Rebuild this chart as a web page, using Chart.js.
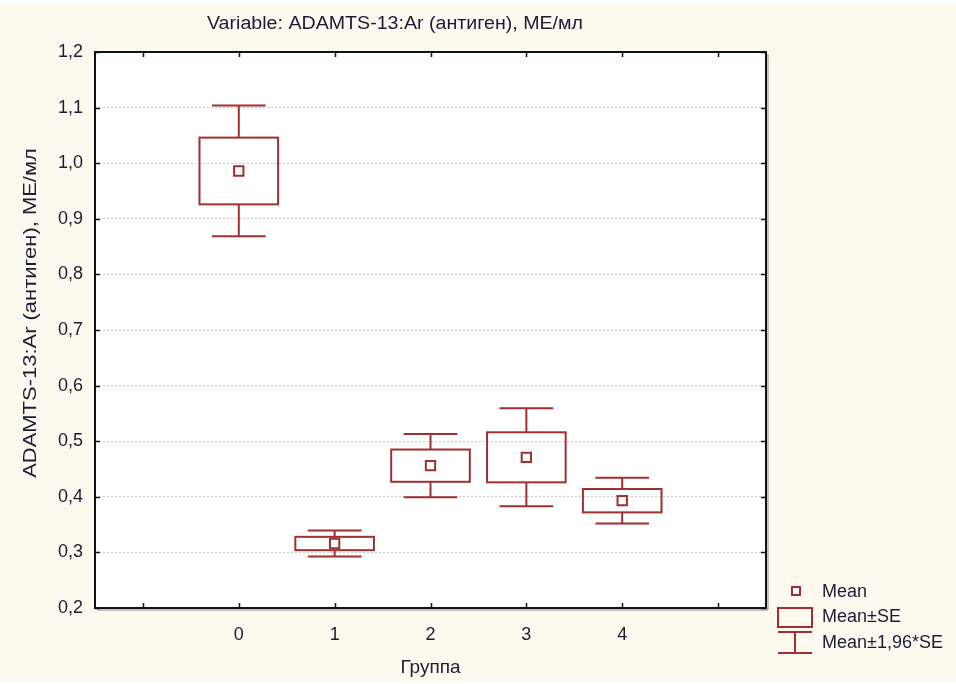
<!DOCTYPE html>
<html>
<head>
<meta charset="utf-8">
<script src="https://cdn.jsdelivr.net/npm/chart.js@4.4.1/dist/chart.umd.min.js"></script>
<style>
  html, body { margin: 0; padding: 0; background: #ffffff; }
</style>
</head>
<body>
<canvas id="myChart" width="956" height="684"></canvas>
<script>
var groups = [0, 1, 2, 3, 4];
var means = [0.986, 0.316, 0.456, 0.471, 0.393];
var se = [0.060, 0.012, 0.029, 0.045, 0.021];

var xTicks = [-1, 0, 1, 2, 3, 4, 5];
var xLabels = ["", "0", "1", "2", "3", "4", ""];
var yTicks = [0.2, 0.3, 0.4, 0.5, 0.6, 0.7, 0.8, 0.9, 1.0, 1.1, 1.2];

var titleText = "Variable: ADAMTS-13:Ar (антиген), МЕ/мл";
var yTitle = "ADAMTS-13:Ar (антиген), МЕ/мл";
var xTitle = "Группа";
var legendLabels = ["Mean", "Mean±SE", "Mean±1,96*SE"];

var RED = "#a02f2f";
var TEXT = "#1c1c34";
var FONT = '"Liberation Sans", Arial, sans-serif';

// draws text stretched along its own direction
function stretchedText(c, text, x, y, sx, angle) {
  c.save();
  c.translate(x, y);
  if (angle) c.rotate(angle);
  c.scale(sx, 1);
  c.fillText(text, 0, 0);
  c.restore();
}

// boxes (mean ± SE), whiskers (mean ± 1.96*SE), frame, titles and legend
var boxPlugin = {
  id: "boxes",
  beforeDraw: function (chart) {
    var c = chart.ctx, a = chart.chartArea;
    c.save();
    c.fillStyle = "#ffffff";
    c.fillRect(0, 0, chart.width, chart.height);
    c.fillStyle = "#fdf9ee";
    c.fillRect(0, 3, chart.width, chart.height - 6);
    c.fillStyle = "#ffffff";
    c.fillRect(a.left, a.top, a.right - a.left, a.bottom - a.top);
    c.restore();
  },
  beforeDatasetsDraw: function (chart) {
    var c = chart.ctx, xs = chart.scales.x, ys = chart.scales.y;
    c.save();
    c.strokeStyle = RED;
    c.lineWidth = 2;
    groups.forEach(function (g, i) {
      var cx = xs.getPixelForValue(g);
      var bl = xs.getPixelForValue(g - 0.41), br = xs.getPixelForValue(g + 0.41);
      var cl = xs.getPixelForValue(g - 0.28), cr = xs.getPixelForValue(g + 0.28);
      var top = ys.getPixelForValue(means[i] + se[i]);
      var bot = ys.getPixelForValue(means[i] - se[i]);
      var wt = ys.getPixelForValue(means[i] + 1.96 * se[i]);
      var wb = ys.getPixelForValue(means[i] - 1.96 * se[i]);
      c.beginPath();
      c.moveTo(cx, top); c.lineTo(cx, wt);
      c.moveTo(cl, wt); c.lineTo(cr, wt);
      c.moveTo(cx, bot); c.lineTo(cx, wb);
      c.moveTo(cl, wb); c.lineTo(cr, wb);
      c.stroke();
      c.strokeRect(bl, top, br - bl, bot - top);
    });
    c.restore();
  },
  afterDraw: function (chart) {
    var c = chart.ctx, a = chart.chartArea, xs = chart.scales.x, ys = chart.scales.y;
    c.save();

    // frame with a faint shadow on the right and bottom
    c.strokeStyle = "#8a8a8a";
    c.lineWidth = 1;
    c.beginPath();
    c.moveTo(a.right + 2, a.top + 2); c.lineTo(a.right + 2, a.bottom + 2);
    c.lineTo(a.left + 2, a.bottom + 2);
    c.stroke();
    c.strokeStyle = "#111111";
    c.lineWidth = 2;
    c.strokeRect(a.left, a.top, a.right - a.left, a.bottom - a.top);

    // inward tick marks
    c.lineWidth = 1.5;
    c.beginPath();
    yTicks.forEach(function (v) {
      var y = Math.round(ys.getPixelForValue(v)) + 0.5;
      c.moveTo(a.left, y); c.lineTo(a.left + 5, y);
      c.moveTo(a.right - 5, y); c.lineTo(a.right, y);
    });
    xTicks.forEach(function (v) {
      var x = Math.round(xs.getPixelForValue(v)) + 0.5;
      c.moveTo(x, a.top); c.lineTo(x, a.top + 5);
      c.moveTo(x, a.bottom - 5); c.lineTo(x, a.bottom);
    });
    c.stroke();

    // chart title and y axis title
    c.fillStyle = TEXT;
    c.font = "18px " + FONT;
    c.textAlign = "center";
    c.textBaseline = "middle";
    stretchedText(c, titleText, 395, 24, 1.09, 0);
    stretchedText(c, yTitle, 31, 313, 1.22, -Math.PI / 2);

    // legend
    var lx = 778, rx = 812, mx = 795;
    c.strokeStyle = RED;
    c.lineWidth = 2;
    c.fillStyle = "#ffffff";
    c.fillRect(792, 587, 8, 8);
    c.strokeRect(792, 587, 8, 8);
    c.strokeRect(lx, 608, rx - lx, 19);
    c.beginPath();
    c.moveTo(lx, 632); c.lineTo(rx, 632);
    c.moveTo(mx, 632); c.lineTo(mx, 653);
    c.moveTo(lx, 653); c.lineTo(rx, 653);
    c.stroke();
    c.fillStyle = TEXT;
    c.textAlign = "left";
    c.font = "18px " + FONT;
    c.fillText(legendLabels[0], 822, 592);
    c.fillText(legendLabels[1], 822, 617);
    c.fillText(legendLabels[2], 822, 643);
    c.restore();
  }
};

new Chart("myChart", {
  type: "scatter",
  data: {
    datasets: [
      {
        label: "Mean",
        data: groups.map(function (g, i) { return { x: g, y: means[i] }; }),
        pointStyle: "rect",
        pointRadius: 6.6,
        pointHoverRadius: 6.6,
        pointBorderWidth: 2,
        borderColor: RED,
        backgroundColor: "#ffffff"
      }
    ]
  },
  options: {
    responsive: false,
    animation: false,
    layout: { padding: { top: 52, right: 190, left: 0, bottom: 0 } },
    scales: {
      x: {
        type: "linear",
        min: -1.5,
        max: 5.5,
        afterBuildTicks: function (scale) {
          scale.ticks = xTicks.map(function (v) { return { value: v }; });
        },
        afterFit: function (scale) { scale.height = 76; },
        ticks: {
          color: TEXT,
          font: { family: FONT, size: 18 },
          padding: 8,
          maxRotation: 0,
          callback: function (v) { return xLabels[xTicks.indexOf(v)]; }
        },
        grid: { display: false },
        border: { display: false },
        title: {
          display: true,
          text: xTitle,
          color: TEXT,
          font: { family: FONT, size: 19 },
          padding: { top: 0, bottom: 5 }
        }
      },
      y: {
        min: 0.2,
        max: 1.2,
        afterBuildTicks: function (scale) {
          scale.ticks = yTicks.map(function (v) { return { value: v }; });
        },
        afterFit: function (scale) { scale.width = 95; },
        ticks: {
          color: TEXT,
          font: { family: FONT, size: 18 },
          padding: 12,
          callback: function (v) { return v.toFixed(1).replace(".", ","); }
        },
        grid: {
          drawTicks: false,
          lineWidth: 1,
          color: function (ctx) {
            var v = ctx.tick ? ctx.tick.value : 0;
            return (v < 0.25 || v > 1.15) ? "rgba(0,0,0,0)" : "#c8c8c8";
          }
        },
        border: { display: false, dash: [2, 2] },
        title: { display: false }
      }
    },
    plugins: {
      legend: { display: false },
      tooltip: { enabled: false }
    }
  },
  plugins: [boxPlugin]
});
</script>
</body>
</html>
